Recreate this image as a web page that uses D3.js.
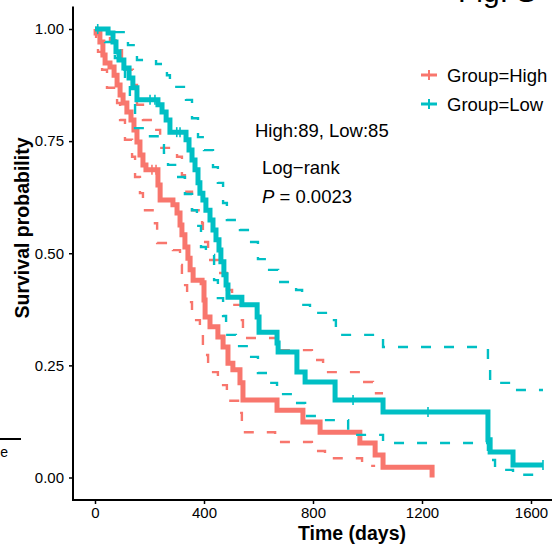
<!DOCTYPE html>
<html>
<head>
<meta charset="utf-8">
<script src="https://cdn.jsdelivr.net/npm/d3@7"></script>
<style>
body { margin: 0; background: #fff; }
svg { display: block; font-family: "Liberation Sans", Arial, sans-serif; }
</style>
</head>
<body>
<svg width="552" height="547"></svg>
<script>
// Kaplan-Meier steps: [time (days), survival]
var highSurv = [[0,1.000],[4,0.991],[18,0.971],[29,0.942],[37,0.924],[55,0.915],[70,0.897],[81,0.875],[92,0.853],[103,0.835],[117,0.815],[132,0.797],[143,0.775],[154,0.748],[165,0.719],[176,0.697],[187,0.686],[231,0.652],[239,0.619],[286,0.608],[301,0.590],[312,0.563],[319,0.541],[330,0.514],[341,0.489],[349,0.463],[360,0.440],[393,0.434],[400,0.396],[404,0.358],[422,0.336],[451,0.313],[470,0.291],[488,0.255],[506,0.240],[532,0.211],[543,0.173],[668,0.150],[763,0.124],[826,0.101],[972,0.077],[1028,0.050],[1057,0.023],[1237,0.000]];
var highUpper = [[0,1.000],[55,0.975],[81,0.953],[99,0.931],[117,0.909],[139,0.875],[154,0.831],[176,0.797],[220,0.775],[239,0.735],[301,0.715],[319,0.674],[330,0.637],[356,0.596],[393,0.567],[396,0.525],[415,0.485],[451,0.456],[484,0.418],[503,0.385],[539,0.351],[543,0.311],[679,0.284],[796,0.262],[837,0.235],[973,0.213],[1020,0.188],[1057,0.188]];
var highLower = [[0,1.000],[4,0.975],[11,0.949],[26,0.909],[44,0.869],[81,0.835],[92,0.797],[110,0.753],[136,0.715],[147,0.670],[165,0.634],[176,0.596],[220,0.567],[228,0.523],[286,0.507],[312,0.474],[319,0.429],[338,0.391],[356,0.351],[385,0.318],[396,0.273],[415,0.235],[451,0.206],[484,0.171],[525,0.144],[539,0.101],[661,0.079],[796,0.059],[844,0.043],[980,0.026],[1028,0.026]];
var highCensor = [209, 224];

var lowSurv = [[0,1.000],[48,0.991],[66,0.971],[77,0.949],[88,0.931],[106,0.913],[125,0.891],[139,0.869],[154,0.842],[231,0.831],[246,0.815],[261,0.797],[275,0.770],[334,0.753],[345,0.730],[356,0.708],[367,0.686],[378,0.657],[385,0.634],[396,0.619],[407,0.596],[422,0.574],[433,0.552],[444,0.530],[455,0.507],[462,0.481],[473,0.452],[481,0.429],[488,0.402],[539,0.385],[595,0.358],[602,0.324],[668,0.300],[672,0.280],[741,0.235],[771,0.213],[881,0.173],[1057,0.146],[1442,0.084],[1450,0.057],[1534,0.028],[1644,0.028]];
var lowUpper = [[0,1.000],[77,0.993],[121,0.964],[154,0.931],[224,0.922],[264,0.897],[275,0.871],[334,0.842],[356,0.801],[378,0.759],[400,0.730],[433,0.692],[451,0.657],[470,0.612],[484,0.574],[532,0.552],[573,0.525],[598,0.487],[639,0.463],[672,0.436],[738,0.418],[760,0.385],[789,0.367],[877,0.351],[884,0.318],[1057,0.291],[1442,0.240],[1450,0.211],[1534,0.195],[1644,0.195]];
var lowLower = [[0,1.000],[37,0.971],[73,0.935],[92,0.909],[110,0.875],[128,0.842],[147,0.779],[191,0.761],[246,0.741],[253,0.724],[268,0.697],[294,0.670],[330,0.632],[356,0.596],[374,0.561],[389,0.514],[407,0.496],[437,0.440],[451,0.400],[470,0.360],[481,0.318],[517,0.293],[573,0.269],[598,0.233],[639,0.211],[668,0.186],[730,0.166],[771,0.137],[818,0.128],[929,0.095],[1057,0.077],[1442,0.039],[1468,0.017],[1534,0.006],[1644,0.006]];
var lowCensor = [10, 202, 220, 300, 312, 947, 1222, 1644];

var xTicks = [0, 400, 800, 1200, 1600];
var yTicks = [0, 0.25, 0.5, 0.75, 1];
var groups = ['Group=High', 'Group=Low'];
var colors = ['#F8766D', '#00BFC4'];

var svg = d3.select('svg');

var x = d3.scaleLinear().domain([0, 1600]).range([95, 531]);
var y = d3.scaleLinear().domain([0, 1]).range([477.5, 29]);

// axes
var yAxis = d3.axisLeft(y).tickValues(yTicks).tickFormat(d3.format('.2f')).tickSize(4).tickPadding(5);
var gy = svg.append('g').attr('transform', 'translate(73,0)').call(yAxis);
var xAxis = d3.axisBottom(x).tickValues(xTicks).tickFormat(d3.format('d')).tickSize(4).tickPadding(3);
var gx = svg.append('g').attr('transform', 'translate(0,500)').call(xAxis);
[gx, gy].forEach(function(g) {
	g.select('.domain').remove();
	g.selectAll('line').attr('stroke', '#000').attr('stroke-width', 1.5);
	g.selectAll('text').attr('font-size', 15).attr('fill', '#000').attr('font-family', '"Liberation Sans", Arial, sans-serif');
});
svg.append('line').attr('x1', 73).attr('x2', 73).attr('y1', y(1.05)).attr('y2', 501)
	.attr('stroke', '#000').attr('stroke-width', 2);
svg.append('line').attr('x1', 72).attr('x2', 552).attr('y1', 500).attr('y2', 500)
	.attr('stroke', '#000').attr('stroke-width', 2);

var line = d3.line()
	.x(function(d) { return x(d[0]); })
	.y(function(d) { return y(d[1]); })
	.curve(d3.curveStepAfter);

function survAt(arr, t) {
	var v = arr[0][1];
	arr.forEach(function(d) { if (d[0] <= t) v = d[1]; });
	return v;
}

function plot(surv, upper, lower, censor, color) {
	svg.append('path')
		.attr('d', line(surv))
		.attr('stroke', color)
		.attr('stroke-width', 5)
		.attr('fill', 'none');
	censor.forEach(function(t) {
		var cx = x(t), cy = y(survAt(surv, t));
		svg.append('line')
			.attr('x1', cx).attr('x2', cx)
			.attr('y1', cy - 5).attr('y2', cy + 5)
			.attr('stroke', color).attr('stroke-width', 1.6);
	});
	[upper, lower].forEach(function(ci) {
		svg.append('path')
			.attr('d', line(ci))
			.attr('stroke', color)
			.attr('stroke-width', 2.4)
			.attr('stroke-dasharray', '10,13')
			.attr('fill', 'none');
	});
}

plot(highSurv, highUpper, highLower, highCensor, colors[0]);
plot(lowSurv, lowUpper, lowLower, lowCensor, colors[1]);

// legend
groups.forEach(function(g, i) {
	var ly = 75 + i * 29;
	svg.append('line').attr('x1', 421).attr('x2', 437).attr('y1', ly).attr('y2', ly)
		.attr('stroke', colors[i]).attr('stroke-width', 3);
	svg.append('line').attr('x1', 429).attr('x2', 429).attr('y1', ly - 5).attr('y2', ly + 5)
		.attr('stroke', colors[i]).attr('stroke-width', 2);
	svg.append('text').attr('x', 447).attr('y', ly + 6.5)
		.attr('font-size', 18.5).text(g);
});

// annotations
svg.append('text').attr('x', 255).attr('y', 137).attr('font-size', 18.5).text('High:89, Low:85');
svg.append('text').attr('x', 262).attr('y', 174).attr('font-size', 18.5).text('Log\u2212rank');
var pt = svg.append('text').attr('x', 262).attr('y', 203).attr('font-size', 18.5);
pt.append('tspan').attr('font-style', 'italic').text('P');
pt.append('tspan').text(' = 0.0023');

// axis titles
svg.append('text')
	.attr('transform', 'translate(29,228) rotate(-90)')
	.attr('text-anchor', 'middle')
	.attr('font-size', 19.5).attr('font-weight', 'bold')
	.text('Survival probability');
svg.append('text')
	.attr('x', 352).attr('y', 540)
	.attr('text-anchor', 'middle')
	.attr('font-size', 19.5).attr('font-weight', 'bold')
	.text('Time (days)');

// pieces of neighbouring panels cut by the crop
svg.append('text').attr('x', 458).attr('y', 2).attr('font-size', 30).text('Fig. S');
svg.append('line').attr('x1', 0).attr('x2', 21).attr('y1', 439).attr('y2', 439)
	.attr('stroke', '#000').attr('stroke-width', 2);
svg.append('text').attr('x', 8).attr('y', 457).attr('text-anchor', 'end').attr('font-size', 14).text('e');
</script>
</body>
</html>
